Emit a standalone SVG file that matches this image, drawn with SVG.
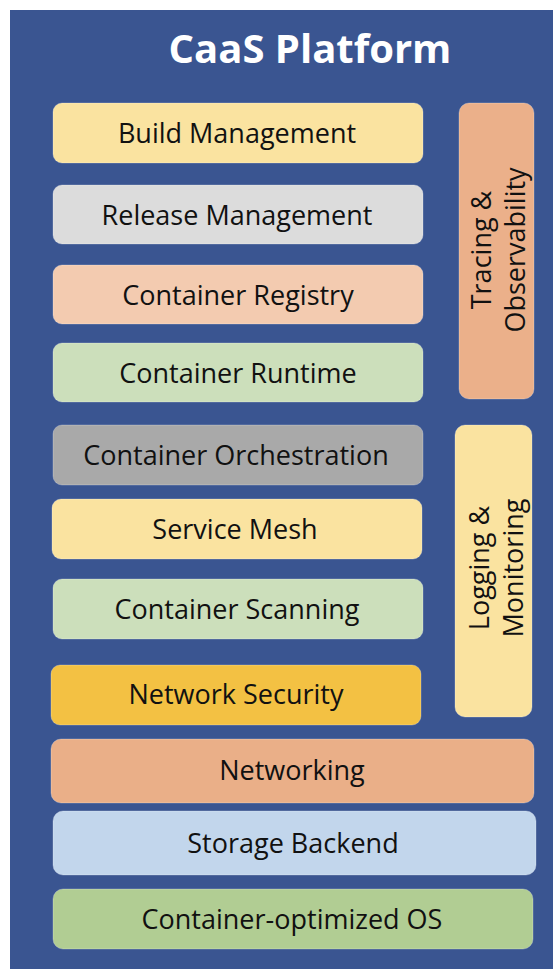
<svg xmlns="http://www.w3.org/2000/svg" width="553" height="969" viewBox="0 0 553 969">
  <style>
    .box { stroke: #ffffff; stroke-opacity: 0.25; stroke-width: 1; }
    .lbl { font-family: "Open Sans", "Noto Sans", sans-serif; font-size: 27px; fill: #111111; text-anchor: middle; dominant-baseline: central; }
    .title { font-family: "Open Sans", "Noto Sans", sans-serif; font-size: 40px; font-weight: bold; fill: #ffffff; text-anchor: middle; }
  </style>
  <rect x="0" y="0" width="553" height="969" fill="#ffffff"/>
  <rect id="panel" x="10" y="10" width="543" height="959" fill="#3A5591"/>
  <text class="title" x="310" y="63">CaaS Platform</text>

  <g id="build-management"><rect class="box" x="53" y="103" width="370" height="60" rx="9" fill="#FAE3A0"/><text class="lbl" x="237" y="132">Build Management</text></g>
  <g id="release-management"><rect class="box" x="53" y="185" width="370" height="59" rx="9" fill="#DCDCDC"/><text class="lbl" x="237" y="214">Release Management</text></g>
  <g id="container-registry"><rect class="box" x="53" y="265" width="370" height="59" rx="9" fill="#F3CBB0"/><text class="lbl" x="238" y="294">Container Registry</text></g>
  <g id="container-runtime"><rect class="box" x="53" y="343" width="370" height="59" rx="9" fill="#CCDFBB"/><text class="lbl" x="238" y="372">Container Runtime</text></g>
  <g id="container-orchestration"><rect class="box" x="53" y="425" width="370" height="60" rx="9" fill="#A9A9A9"/><text class="lbl" x="236" y="454">Container Orchestration</text></g>
  <g id="service-mesh"><rect class="box" x="52" y="499" width="370" height="60" rx="9" fill="#FAE3A0"/><text class="lbl" x="235" y="528">Service Mesh</text></g>
  <g id="container-scanning"><rect class="box" x="53" y="579" width="370" height="60" rx="9" fill="#CCDFBB"/><text class="lbl" x="237" y="608">Container Scanning</text></g>
  <g id="network-security"><rect class="box" x="51" y="665" width="370" height="60" rx="9" fill="#F3C143"/><text class="lbl" x="236" y="693">Network Security</text></g>
  <g id="networking"><rect class="box" x="51" y="739" width="483" height="64" rx="10" fill="#EAAF88"/><text class="lbl" x="292" y="769">Networking</text></g>
  <g id="storage-backend"><rect class="box" x="53" y="811" width="483" height="64" rx="10" fill="#C2D6EC"/><text class="lbl" x="293" y="842">Storage Backend</text></g>
  <g id="container-os"><rect class="box" x="53" y="889" width="480" height="60" rx="10" fill="#B1CD93"/><text class="lbl" x="292" y="918">Container-optimized OS</text></g>

  <g id="tracing-observability">
    <rect class="box" x="459" y="103" width="75" height="296" rx="10" fill="#EBB08A"/>
    <text class="lbl" transform="translate(497 250) rotate(-90)"><tspan x="0" y="-17">Tracing &amp;</tspan><tspan x="0" y="17">Observability</tspan></text>
  </g>
  <g id="logging-monitoring">
    <rect class="box" x="455" y="425" width="77" height="292" rx="10" fill="#FAE3A0"/>
    <text class="lbl" transform="translate(495 568) rotate(-90)"><tspan x="0" y="-17">Logging &amp;</tspan><tspan x="0" y="17">Monitoring</tspan></text>
  </g>
</svg>
